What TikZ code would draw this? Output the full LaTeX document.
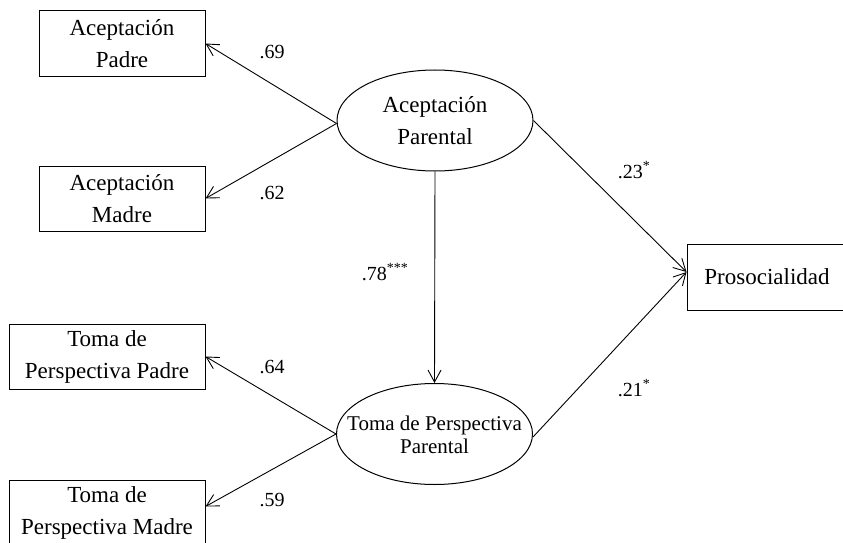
\documentclass[tikz,border=0pt]{standalone}
\usepackage{fontspec}
\setmainfont{Liberation Serif}
\usetikzlibrary{shapes.geometric,arrows.meta}
\begin{document}
\begin{tikzpicture}[x=1pt,y=-1pt,
  obs/.style={draw,line width=1pt,rectangle,minimum height=65pt,inner sep=0pt,align=center,font=\fontsize{23}{32}\selectfont},
  lat/.style={draw,line width=1pt,ellipse,minimum width=196pt,minimum height=101pt,inner sep=0pt},
  lattext/.style={align=center,inner sep=0pt},
  conn/.style={line width=0.9pt,-{Straight Barb[length=12pt,width=13pt,line width=0.9pt]}},
  coef/.style={font=\fontsize{20}{24}\selectfont,inner sep=0pt}]
\useasboundingbox (0,0) rectangle (843,543);
% observed
\node[obs,minimum width=166pt] (ap) at (122,43.5) {Aceptación\\Padre};
\node[obs,minimum width=166pt] (am) at (122,198.5) {Aceptación\\Madre};
\node[obs,minimum width=196pt] (tp) at (107,356.5) {Toma de\\Perspectiva Padre};
\node[obs,minimum width=196pt] (tm) at (107,512.5) {Toma de\\Perspectiva Madre};
\node[obs,minimum width=160pt,minimum height=66pt] (pro) at (767,277) {Prosocialidad};
% latent
\node[lat] (e1) at (435,120.5) {};
\node[lattext,font=\fontsize{23}{32}\selectfont] (e1t) at (435,121) {Aceptación\\Parental};
\node[lat] (e2) at (434.5,434) {};
\node[lattext,font=\fontsize{21}{23}\selectfont] (e2t) at (434.5,435) {Toma de Perspectiva\\Parental};
% connectors
\draw[conn] ([yshift=-3pt]e1.west) -- (ap.east);
\draw[conn] ([yshift=-3pt]e1.west) -- (am.east);
\draw[conn] (e2.west) -- (tp.east);
\draw[conn] (e2.west) -- ([yshift=6pt]tm.east);
\draw[conn] (e1.south) -- (e2.north);
\draw[conn] (e1.east) -- ([yshift=5pt]pro.west);
\draw[conn] ([yshift=-3pt]e2.east) -- ([yshift=5pt]pro.west);
% coefficients
\node[coef] (c1) at (272,52) {.69};
\node[coef] (c2) at (272,193) {.62};
\node[coef] (c3) at (272,367) {.64};
\node[coef] (c4) at (272,500) {.59};
\node[coef] (c5) at (634,170) {.23\textsuperscript{*}};
\node[coef] (c6) at (634,388) {.21\textsuperscript{*}};
\node[coef] (c7) at (385,272) {.78\textsuperscript{***}};
\end{tikzpicture}
\end{document}
